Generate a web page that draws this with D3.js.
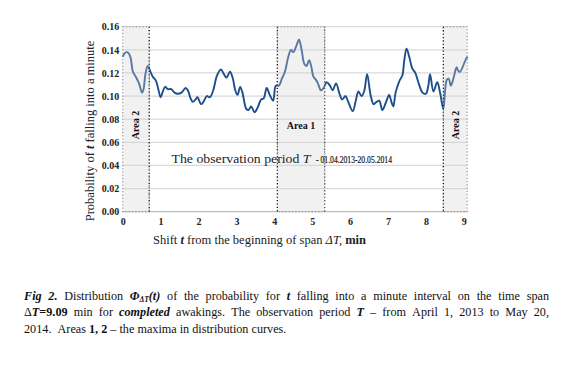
<!DOCTYPE html>
<html><head><meta charset="utf-8">
<script src="https://cdn.jsdelivr.net/npm/d3@7/dist/d3.min.js"></script>
<style>
html,body{margin:0;padding:0;background:#fff;}
svg{display:block;}
</style></head>
<body>
<svg id="chart" width="576" height="365"></svg>
<script>
// ---- data ----
const tValues = [0.00,0.05,0.10,0.16,0.21,0.27,0.34,0.43,0.51,0.55,0.60,0.66,0.72,0.79,0.88,0.94,1.00,1.06,1.12,1.19,1.28,1.37,1.45,1.55,1.66,1.72,1.79,1.85,1.92,1.97,2.07,2.13,2.22,2.30,2.39,2.48,2.59,2.67,2.74,2.83,2.90,2.97,3.03,3.10,3.16,3.26,3.32,3.39,3.48,3.56,3.65,3.72,3.80,3.88,3.97,4.04,4.12,4.20,4.28,4.37,4.44,4.50,4.59,4.65,4.72,4.79,4.85,4.92,4.98,5.03,5.10,5.15,5.23,5.30,5.38,5.47,5.54,5.63,5.72,5.79,5.88,5.95,6.07,6.15,6.22,6.30,6.37,6.45,6.54,6.62,6.70,6.77,6.85,6.94,7.03,7.09,7.14,7.20,7.30,7.38,7.43,7.49,7.56,7.64,7.72,7.83,7.91,8.00,8.06,8.11,8.20,8.30,8.38,8.46,8.55,8.60,8.66,8.74,8.81,8.85,8.90,9.03,9.09];
const probValues = [0.134,0.137,0.138,0.137,0.133,0.121,0.117,0.111,0.103,0.106,0.119,0.126,0.122,0.117,0.113,0.106,0.099,0.104,0.108,0.106,0.106,0.103,0.102,0.103,0.107,0.105,0.098,0.095,0.097,0.099,0.093,0.095,0.100,0.099,0.105,0.117,0.123,0.119,0.116,0.121,0.116,0.105,0.101,0.108,0.103,0.089,0.088,0.091,0.086,0.090,0.097,0.098,0.107,0.101,0.096,0.109,0.109,0.115,0.121,0.134,0.140,0.138,0.144,0.149,0.140,0.128,0.126,0.131,0.125,0.117,0.114,0.111,0.105,0.107,0.112,0.109,0.105,0.111,0.102,0.097,0.100,0.095,0.087,0.096,0.104,0.100,0.104,0.119,0.101,0.093,0.095,0.096,0.088,0.094,0.101,0.095,0.091,0.103,0.113,0.118,0.131,0.141,0.134,0.124,0.120,0.109,0.103,0.102,0.108,0.119,0.104,0.112,0.102,0.089,0.114,0.115,0.109,0.117,0.125,0.122,0.121,0.130,0.134];
const yTicks = [0.00,0.02,0.04,0.06,0.08,0.10,0.12,0.14,0.16];
const xTicks = [0,1,2,3,4,5,6,7,8,9];
const areaNames = ["Area 2","Area 1","Area 2"];
const areaStarts = [0.00,4.08,8.46];
const areaEnds = [0.70,5.33,9.09];
const spanEnd = 9.09;

// ---- layout ----
const svg = d3.select("#chart");
const x = d3.scaleLinear().domain([0, spanEnd]).range([122.7, 467.2]);
const y = d3.scaleLinear().domain([0, 0.16]).range([211.7, 26.7]);
const serif = "'Liberation Serif','Times New Roman',serif";

// gridlines
svg.append("g").selectAll("line").data(yTicks).join("line")
  .attr("x1", x(0)).attr("x2", x(spanEnd))
  .attr("y1", d => y(d)).attr("y2", d => y(d))
  .attr("stroke", d => d === 0 ? "#bdbdbd" : "#d9d9d9").attr("stroke-width", 1.2);

// curve
const pts = tValues.map((t, i) => [t, probValues[i]]);
const line = d3.line().x(d => x(d[0])).y(d => y(d[1])).curve(d3.curveCatmullRom.alpha(0.5));
svg.append("path").datum(pts).attr("d", line)
  .attr("fill", "none").attr("stroke", "#1f4f88").attr("stroke-width", 1.9)
  .attr("stroke-linejoin", "round");

// areas (translucent overlays)
const areas = areaStarts.map((s, i) => ({s, e: areaEnds[i], name: areaNames[i]}));
const ag = svg.append("g");
ag.selectAll("rect").data(areas).join("rect")
  .attr("x", d => x(d.s)).attr("width", d => x(d.e) - x(d.s))
  .attr("y", y(0.16)).attr("height", y(0) - y(0.16))
  .attr("fill", "#d2d2d2").attr("fill-opacity", 0.32)
  .attr("stroke", "#8a8a8a").attr("stroke-width", 1.1).attr("stroke-dasharray", "1.1,2.2");
// darker inner boundaries
const innerBounds = [areaEnds[0], areaStarts[1], areaEnds[1], areaStarts[2]];
ag.selectAll("line.b").data(innerBounds).join("line").attr("class","b")
  .attr("x1", d => x(d)).attr("x2", d => x(d))
  .attr("y1", y(0.16)).attr("y2", y(0))
  .attr("stroke", (d,i) => i === 2 ? "#555" : "#111").attr("stroke-width", 1.2)
  .attr("stroke-dasharray", "1.1,2.3");

// area labels
svg.append("text").attr("x", (x(areaStarts[1]) + x(areaEnds[1])) / 2).attr("y", 129)
  .attr("text-anchor", "middle").attr("font-family", serif).attr("font-weight", "bold")
  .attr("font-size", 10).attr("fill", "#111").text(areaNames[1]);
[0, 2].forEach(i => {
  const cx = i === 0 ? 135.5 : 455.5;
  svg.append("text").attr("transform", `translate(${cx + 3.5},125) rotate(-90)`)
    .attr("text-anchor", "middle").attr("font-family", serif).attr("font-weight", "bold")
    .attr("font-size", 10).attr("fill", "#111").text(areaNames[i]);
});

// axes tick labels
const yAxis = d3.axisLeft(y).tickValues(yTicks).tickFormat(d3.format(".2f")).tickSize(0).tickPadding(3.5);
const yg = svg.append("g").attr("transform", `translate(${x(0)},0)`).call(yAxis);
yg.select(".domain").remove();
yg.selectAll("text").attr("font-family", serif).attr("font-weight", "bold").attr("font-size", 10).attr("fill", "#222");

const xAxis = d3.axisBottom(x).tickValues(xTicks).tickFormat(d3.format("d")).tickSize(0).tickPadding(6);
const xg = svg.append("g").attr("transform", `translate(0,${y(0)})`).call(xAxis);
xg.select(".domain").remove();
xg.selectAll("text").attr("font-family", serif).attr("font-weight", "bold").attr("font-size", 10).attr("fill", "#222");

// y title
const yt = svg.append("text").attr("transform", "translate(94,131) rotate(-90)")
  .attr("text-anchor", "middle").attr("font-family", serif).attr("font-size", 12.5).attr("fill", "#222");
yt.append("tspan").text("Probability of ");
yt.append("tspan").attr("font-weight", "bold").attr("font-style", "italic").text("t");
yt.append("tspan").text(" falling into a minute");

// x title
const xt = svg.append("text").attr("x", 153).attr("y", 244)
  .attr("font-family", serif).attr("font-size", 12.5).attr("fill", "#222");
xt.append("tspan").text("Shift ");
xt.append("tspan").attr("font-weight", "bold").attr("font-style", "italic").text("t");
xt.append("tspan").text(" from the beginning of span ");
xt.append("tspan").attr("font-style", "italic").text("ΔT,");
xt.append("tspan").attr("font-weight", "bold").text(" min");

// observation text
const ot = svg.append("text").attr("x", 171.5).attr("y", 162.5)
  .attr("font-family", serif).attr("font-size", 13).attr("fill", "#222")
  .attr("textLength", 139).attr("lengthAdjust", "spacingAndGlyphs");
ot.append("tspan").text("The observation period ");
ot.append("tspan").attr("font-style", "italic").text("T");
svg.append("text").attr("x", 316).attr("y", 162.5).attr("font-family", serif)
  .attr("font-size", 11).attr("fill", "#111").attr("stroke", "#111").attr("stroke-width", 0.2)
  .attr("textLength", 76).attr("lengthAdjust", "spacingAndGlyphs")
  .text("- 01.04.2013-20.05.2014");

// caption (justified)
const B = {w:"bold"}, BI = {w:"bold", s:"italic"};
const capLines = [
  [[["Fig", BI]], [["2.", BI]], [["Distribution", {}]], [["Φ", BI], ["ΔT", {w:"bold", s:"italic", sub:true}], ["(t)", BI]],
   [["of",{}]],[["the",{}]],[["probability",{}]],[["for",{}]],[["t",BI]],[["falling",{}]],[["into",{}]],[["a",{}]],[["minute",{}]],[["interval",{}]],[["on",{}]],[["the",{}]],[["time",{}]],[["span",{}]]],
  [[["Δ",{}],["T",BI],["=9.09",B]], [["min",{}]], [["for",{}]], [["completed",BI]], [["awakings.",{}]], [["The",{}]], [["observation",{}]], [["period",{}]], [["T",BI]], [["–",{}]], [["from",{}]], [["April",{}]], [["1,",{}]], [["2013",{}]], [["to",{}]], [["May",{}]], [["20,",{}]]],
  [[["2014.",{}]], [["",{}]], [["Areas",{}]], [["1,",B]], [["2",B]], [["–",{}]], [["the",{}]], [["maxima",{}]], [["in",{}]], [["distribution",{}]], [["curves.",{}]]]
];
const capX0 = 24, capX1 = 549, capY = [299.5, 316, 332.5], capSize = 12.2;
capLines.forEach((words, li) => {
  const els = words.map(segs => {
    const t = svg.append("text").attr("y", capY[li]).attr("font-family", serif).attr("font-size", capSize).attr("fill", "#111");
    segs.forEach(([txt, st]) => {
      const sp = t.append("tspan").text(txt);
      if (st.w) sp.attr("font-weight", st.w);
      if (st.s) sp.attr("font-style", st.s);
      if (st.sub) sp.attr("font-size", capSize * 0.62).attr("dy", 2.5);
    });
    if (segs.some(s => s[1].sub)) {
      const tsp = t.selectAll("tspan").nodes();
      tsp.forEach((n, k) => { if (k > 0 && segs[k-1][1].sub) d3.select(n).attr("dy", -2.5); });
    }
    return t;
  });
  const widths = els.map(e => e.node().getComputedTextLength());
  const total = d3.sum(widths);
  const natural = capSize * 0.25;
  const gap = li < 2 ? (capX1 - capX0 - total) / (els.length - 1) : natural;
  let cx = capX0;
  els.forEach((e, i) => { e.attr("x", cx); cx += widths[i] + gap; });
});
</script>
</body></html>
